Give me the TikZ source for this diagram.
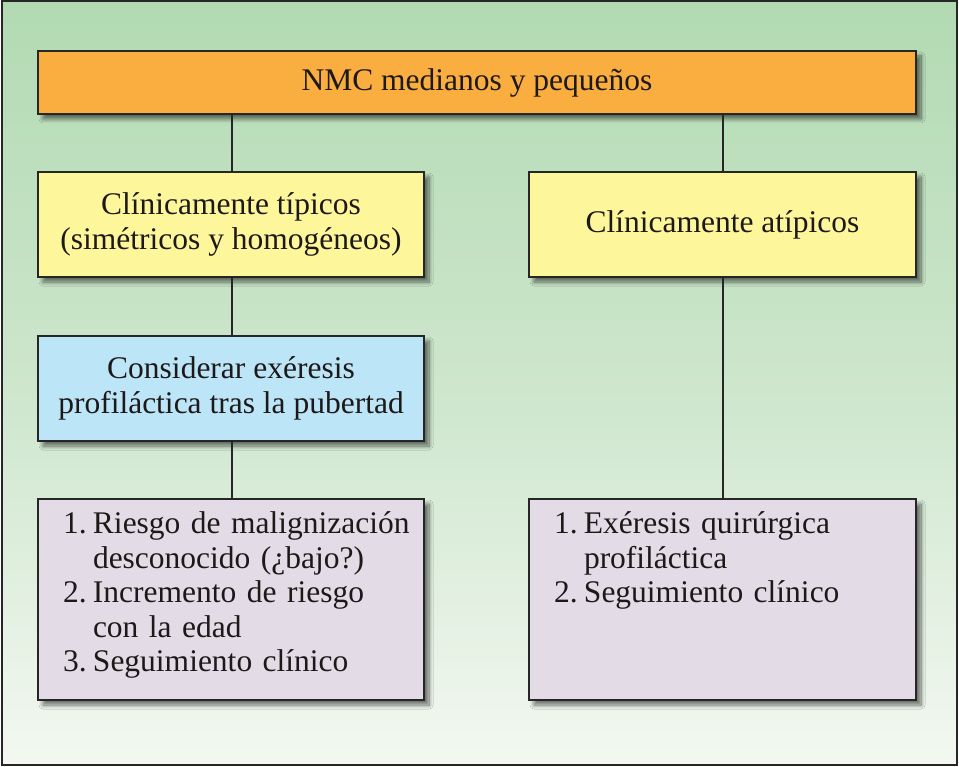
\documentclass[tikz,border=0pt]{standalone}
\usepackage{fontspec}
\setmainfont{Liberation Serif}
\usetikzlibrary{shadows.blur}
\definecolor{bgtop}{RGB}{178,218,178}
\definecolor{bgmid}{RGB}{205,230,204}
\definecolor{bgbot}{RGB}{243,248,241}
\definecolor{orangebox}{RGB}{249,174,63}
\definecolor{yellowbox}{RGB}{254,246,154}
\definecolor{bluebox}{RGB}{188,229,247}
\definecolor{purplebox}{RGB}{227,220,230}
\definecolor{framecol}{RGB}{38,38,38}
\definecolor{shadowcol}{RGB}{40,70,45}
\definecolor{textcol}{RGB}{30,25,25}
\begin{document}
\begin{tikzpicture}[x=1pt,y=-1pt,
  box/.style={draw=framecol, line width=2pt, rectangle, inner sep=0pt,
    font=\fontsize{31.5}{34.5}\selectfont, align=center, text=textcol,
    blur shadow={shadow xshift=5pt, shadow yshift=-5pt, shadow blur steps=12,
      shadow blur radius=4pt,
      shadow blur extra rounding=0pt, shadow opacity=55, fill=shadowcol}},
  link/.style={draw=framecol, line width=2pt}]
\useasboundingbox (0,0) rectangle (959,767);
\shade[top color=bgtop, bottom color=bgbot, middle color=bgmid] (2,1) rectangle (957,765);
\draw[framecol, line width=2pt] (2,1) rectangle (957,765);

\node[box, fill=orangebox, minimum width=878pt, minimum height=63pt] (top) at (477,82.5) {NMC medianos y peque\~nos};
\node[box, fill=yellowbox, minimum width=386pt, minimum height=105pt] (yl) at (231,224.5)
  {Cl\'inicamente t\'ipicos\\(sim\'etricos y homog\'eneos)};
\node[box, fill=yellowbox, minimum width=387pt, minimum height=105pt] (yr) at (722.5,224.5)
  {Cl\'inicamente at\'ipicos};
\node[box, fill=bluebox, minimum width=386pt, minimum height=105pt] (bl) at (231,388.5)
  {Considerar ex\'eresis\\profil\'actica tras la pubertad};
\node[box, fill=purplebox, minimum width=386pt, minimum height=201pt, align=left,
  text width=386pt] (pl) at (231,599.5)
  {\begin{minipage}[t][201pt][t]{386pt}\raggedright\vspace{13pt}%
   \leftskip=25pt
   \makebox[30pt][l]{1.}Riesgo de malignizaci\'on\\
   \hspace*{30pt}desconocido (¿bajo?)\\
   \makebox[30pt][l]{2.}Incremento de riesgo\\
   \hspace*{30pt}con la edad\\
   \makebox[30pt][l]{3.}Seguimiento cl\'inico
   \end{minipage}};
\node[box, fill=purplebox, minimum width=387pt, minimum height=201pt, align=left,
  text width=387pt] (pr) at (722.5,599.5)
  {\begin{minipage}[t][201pt][t]{387pt}\raggedright\vspace{13pt}%
   \leftskip=25pt
   \makebox[30pt][l]{1.}Ex\'eresis quir\'urgica\\
   \hspace*{30pt}profil\'actica\\
   \makebox[30pt][l]{2.}Seguimiento cl\'inico
   \end{minipage}};

\coordinate (cl) at (232,0);
\coordinate (cr) at (723,0);
\draw[link] (top.south -| cl) -- (yl.north -| cl);
\draw[link] (top.south -| cr) -- (yr.north -| cr);
\draw[link] (yl.south -| cl) -- (bl.north -| cl);
\draw[link] (bl.south -| cl) -- (pl.north -| cl);
\draw[link] (yr.south -| cr) -- (pr.north -| cr);
\end{tikzpicture}
\end{document}
